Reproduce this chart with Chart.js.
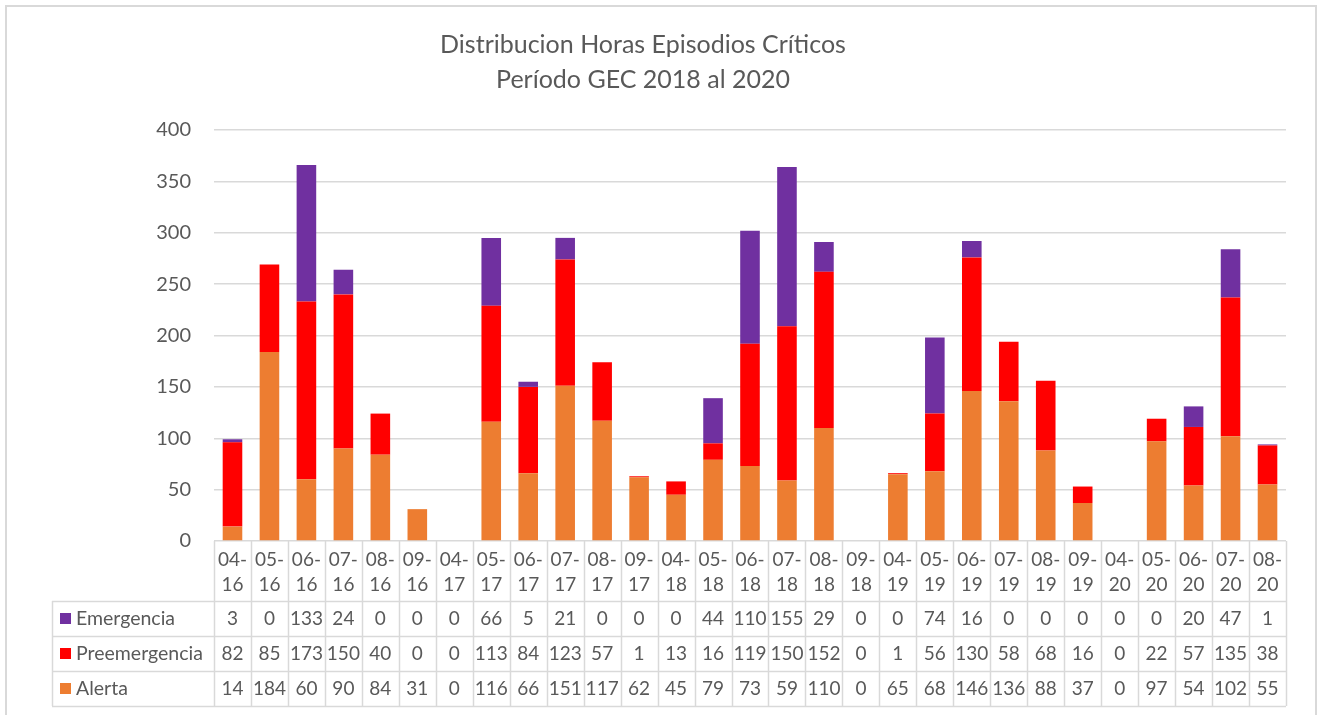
<!DOCTYPE html>
<html>
<head>
<meta charset="utf-8">
<title>Distribucion Horas Episodios Críticos</title>
<script src="https://cdn.jsdelivr.net/npm/chart.js@4.4.1/dist/chart.umd.min.js"></script>
<style>
  body { margin: 0; background: #fff; }
  #wrap { position: relative; width: 1317px; height: 715px; }
  #frame { position: absolute; left: 5px; top: 5px; width: 1308px; height: 720px; border: 2px solid #d9d9d9; pointer-events: none; }
</style>
</head>
<body>
<div id="wrap">
  <canvas id="chart" width="1317" height="715"></canvas>
  <div id="frame"></div>
</div>
<script>
// Months of each critical episode season (mm-yy)
const months = ['04-16', '05-16', '06-16', '07-16', '08-16', '09-16',
                '04-17', '05-17', '06-17', '07-17', '08-17', '09-17',
                '04-18', '05-18', '06-18', '07-18', '08-18', '09-18',
                '04-19', '05-19', '06-19', '07-19', '08-19', '09-19',
                '04-20', '05-20', '06-20', '07-20', '08-20'];

// Hours per episode level
const emergencia    = [3, 0, 133, 24, 0, 0, 0, 66, 5, 21, 0, 0, 0, 44, 110, 155, 29, 0, 0, 74, 16, 0, 0, 0, 0, 0, 20, 47, 1];
const preemergencia = [82, 85, 173, 150, 40, 0, 0, 113, 84, 123, 57, 1, 13, 16, 119, 150, 152, 0, 1, 56, 130, 58, 68, 16, 0, 22, 57, 135, 38];
const alerta        = [14, 184, 60, 90, 84, 31, 0, 116, 66, 151, 117, 62, 45, 79, 73, 59, 110, 0, 65, 68, 146, 136, 88, 37, 0, 97, 54, 102, 55];

const titleLines = ['Distribucion Horas Episodios Críticos', 'Período GEC 2018 al 2020'];
const yTicks = [0, 50, 100, 150, 200, 250, 300, 350, 400];

const textColor = '#595959';
const lineColor = '#d9d9d9';
const fontFamily = 'Lato, "Open Sans", sans-serif';

// Rows of the data table under the chart (top to bottom, like Excel shows them)
const tableRows = [
    { label: 'Emergencia', color: '#7030a0', values: emergencia },
    { label: 'Preemergencia', color: '#ff0000', values: preemergencia },
    { label: 'Alerta', color: '#ed7d31', values: alerta }
];

// Draws the Excel style data table below the x axis
const dataTablePlugin = {
    id: 'dataTable',
    afterDraw(chart) {
        const ctx = chart.ctx;
        const xScale = chart.scales.x;
        const area = chart.chartArea;
        const colW = (area.right - area.left) / months.length;
        const headBottom = area.bottom + 60; // header row with the month labels
        const rowH = 35;
        const legLeft = 52;
        const tableBottom = headBottom + rowH * tableRows.length;

        ctx.save();
        ctx.strokeStyle = lineColor;
        ctx.lineWidth = 1.5;

        // vertical lines between months
        for (let i = 0; i <= months.length; i++) {
            const lx = Math.round(area.left + i * colW) + 0.5;
            ctx.beginPath();
            ctx.moveTo(lx, area.bottom);
            ctx.lineTo(lx, tableBottom);
            ctx.stroke();
        }
        // left edge of the legend column
        ctx.beginPath();
        ctx.moveTo(legLeft + 0.5, headBottom);
        ctx.lineTo(legLeft + 0.5, tableBottom);
        ctx.stroke();
        // horizontal row lines
        for (let r = 0; r <= tableRows.length; r++) {
            const ly = Math.round(headBottom + r * rowH) + 0.5;
            ctx.beginPath();
            ctx.moveTo(legLeft, ly);
            ctx.lineTo(area.right, ly);
            ctx.stroke();
        }

        ctx.fillStyle = textColor;
        ctx.textAlign = 'center';
        ctx.textBaseline = 'middle';
        ctx.font = '19px ' + fontFamily;

        // month labels on two lines
        months.forEach((m, i) => {
            const cx = xScale.getPixelForValue(i);
            const parts = m.split('-');
            ctx.fillText(parts[0] + '-', cx, area.bottom + 19);
            ctx.fillText(parts[1], cx, area.bottom + 44);
        });

        // table values and legend keys
        tableRows.forEach((row, r) => {
            const cy = headBottom + r * rowH + rowH / 2;
            ctx.fillStyle = row.color;
            ctx.fillRect(60, cy - 5.5, 11, 11);
            ctx.fillStyle = textColor;
            ctx.textAlign = 'left';
            ctx.font = '19.5px ' + fontFamily;
            ctx.fillText(row.label, 76, cy);
            ctx.font = '19px ' + fontFamily;
            ctx.textAlign = 'center';
            row.values.forEach((v, i) => {
                ctx.fillText(String(v), xScale.getPixelForValue(i), cy);
            });
        });
        ctx.restore();
    }
};

const ctx = document.getElementById('chart');
new Chart(ctx, {
    type: 'bar',
    data: {
        labels: months,
        datasets: [
            { label: 'Alerta', data: alerta, backgroundColor: '#ed7d31' },
            { label: 'Preemergencia', data: preemergencia, backgroundColor: '#ff0000' },
            { label: 'Emergencia', data: emergencia, backgroundColor: '#7030a0' }
        ]
    },
    options: {
        responsive: false,
        animation: false,
        layout: { padding: { left: 0, right: 31, top: 0, bottom: 174 } },
        datasets: { bar: { barPercentage: 0.53, categoryPercentage: 1 } },
        plugins: {
            legend: { display: false },
            tooltip: { enabled: false },
            title: {
                display: true,
                text: titleLines,
                color: textColor,
                font: { family: fontFamily, size: 25, weight: 'normal', lineHeight: 1.4 },
                padding: { top: 27, bottom: 33 }
            }
        },
        scales: {
            x: {
                stacked: true,
                display: false
            },
            y: {
                stacked: true,
                min: 0,
                max: 400,
                afterBuildTicks(scale) {
                    scale.ticks = yTicks.map(v => ({ value: v }));
                },
                afterFit(scale) {
                    scale.width = 214;
                },
                border: { display: false },
                grid: { color: lineColor, lineWidth: 1.5, drawTicks: false },
                ticks: {
                    color: textColor,
                    padding: 23,
                    font: { family: fontFamily, size: 20 }
                }
            }
        }
    },
    plugins: [dataTablePlugin]
});
</script>
</body>
</html>
